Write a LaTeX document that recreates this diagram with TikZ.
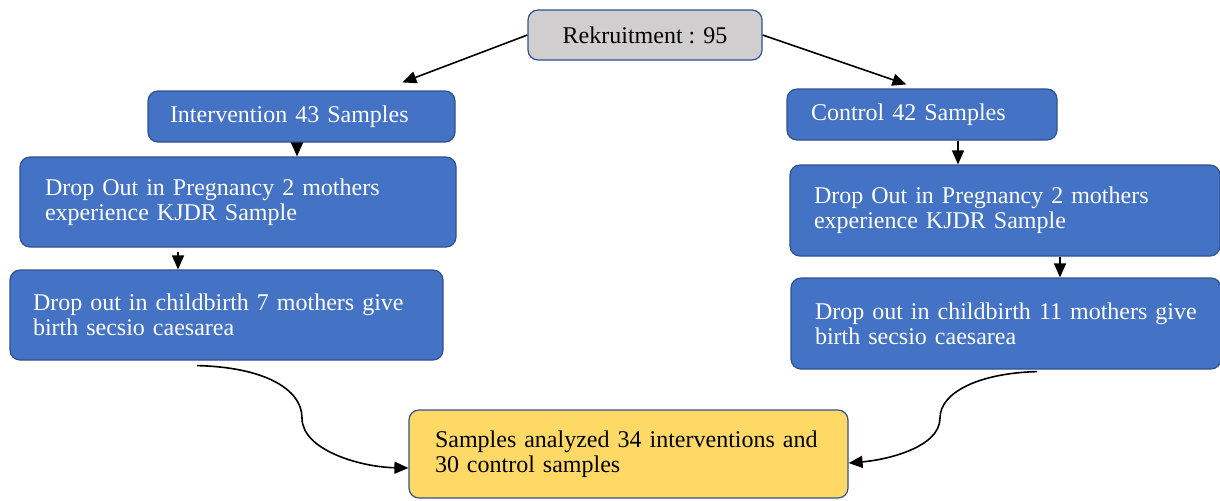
\documentclass[tikz,border=0pt]{standalone}
\usepackage{fontspec}
\setmainfont{Liberation Serif}
\usetikzlibrary{arrows.meta}
\definecolor{boxblue}{HTML}{4472C4}
\definecolor{edgeblue}{HTML}{2F528F}
\definecolor{boxgray}{HTML}{D0CECE}
\definecolor{boxyellow}{HTML}{FFD966}
\begin{document}
\begin{tikzpicture}[x=0.5pt,y=-0.5pt,
  box/.style={draw=edgeblue, line width=0.6pt, rounded corners=5pt, fill=boxblue,
    text=white, align=left, inner ysep=0pt, font=\fontsize{12}{12.5}\selectfont},
  conn/.style={-{Triangle[length=7pt,width=6pt]}, line width=0.8pt, black}]
\useasboundingbox (0,0) rectangle (1220,500);
\node[box, minimum width=117pt, minimum height=25pt, fill=boxgray, text=black, align=center] (rek) at (645,35) {Rekruitment : 95};
\node[box, text width=131.5pt, inner xsep=11pt, minimum height=25.5pt] (int) at (301.5,116.5) {Intervention 43 Samples};
\node[box, text width=111pt, inner xsep=12pt, minimum height=25.5pt] (ctl) at (922,114.5) {Control 42 Samples};
\node[box, text width=193pt, inner xsep=12.5pt, minimum height=45pt] (ldp) at (238,202) {Drop Out in Pregnancy 2 mothers\\experience KJDR Sample};
\node[box, text width=191pt, inner xsep=12pt, minimum height=45.5pt] (rdp) at (1005,210.5) {Drop Out in Pregnancy 2 mothers\\experience KJDR Sample};
\node[box, text width=193.5pt, inner xsep=11.5pt, minimum height=45pt] (lcb) at (226.5,315) {Drop out in childbirth 7 mothers give\\birth secsio caesarea};
\node[box, text width=191pt, inner xsep=12pt, minimum height=45.5pt] (rcb) at (1006,323.5) {Drop out in childbirth 11 mothers give\\birth secsio caesarea};
\node[box, text width=193.5pt, inner xsep=13pt, minimum height=44pt, fill=boxyellow, text=black] (sam) at (628.5,454) {Samples analyzed 34 interventions and\\30 control samples};
% top arrows
\draw[conn] (rek.west) -- ([xshift=127.5pt,yshift=4pt]int.north west);
\draw[conn] (rek.east) -- ([xshift=60pt,yshift=2pt]ctl.north west);
% vertical arrows
\coordinate (a1) at ([xshift=-2.25pt]int.south);
\draw[conn] (a1) -- (a1 |- ldp.north);
\coordinate (a2) at ([xshift=18pt]ctl.south);
\draw[conn] (a2) -- (a2 |- rdp.north);
\coordinate (a3) at ([xshift=-30pt,yshift=-2pt]ldp.south);
\draw[conn] (a3) -- (a3 |- lcb.north);
\coordinate (a4) at ([xshift=27.5pt]rdp.south);
\draw[conn] (a4) -- (a4 |- rcb.north);
% curved arrows
\coordinate (c1) at ([xshift=-14.75pt,yshift=-2.5pt]lcb.south);
\draw[conn] (c1) .. controls (262,367) and (302,388) .. (302,418) .. controls (302,450) and (360,467) .. ([yshift=-7pt]sam.west);
\coordinate (c2) at ([xshift=15.5pt,yshift=-1pt]rcb.south);
\draw[conn] (c2) .. controls (980,373) and (940,392) .. (940,418) .. controls (940,448) and (885,460) .. ([yshift=-4.5pt]sam.east);
\end{tikzpicture}
\end{document}
